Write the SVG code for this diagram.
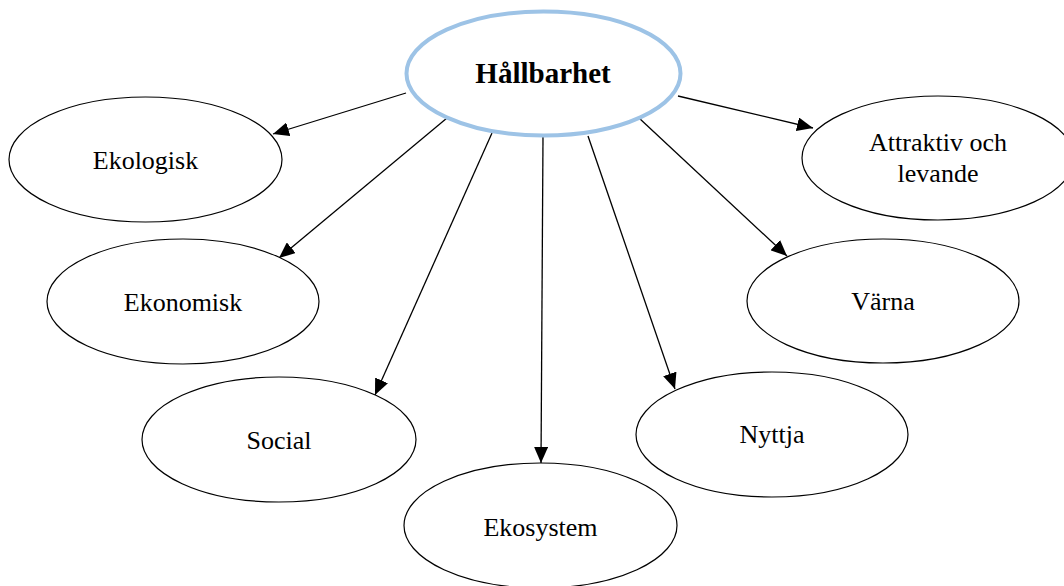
<svg xmlns="http://www.w3.org/2000/svg" width="1064" height="586" viewBox="0 0 1064 586">
<style>
.n{fill:#fff;stroke:#000;stroke-width:1.2}
.t{font-size:26px;fill:#000;text-anchor:middle}
.c line{stroke:#000;stroke-width:1.3;marker-end:url(#ah)}
</style>
<defs>
<marker id="ah" markerUnits="userSpaceOnUse" viewBox="0 0 16 14" refX="16" refY="7" markerWidth="16" markerHeight="14" orient="auto">
<path d="M0,0 L16,7 L0,14 z" fill="#000"/>
</marker>
</defs>
<rect width="1064" height="586" fill="#fff"/>
<g class="c" id="connectors">
<line x1="406" y1="93" x2="273" y2="134"/>
<line x1="447" y1="118" x2="279" y2="258"/>
<line x1="492" y1="133" x2="375" y2="395"/>
<line x1="543" y1="137" x2="541" y2="463"/>
<line x1="588" y1="136" x2="675" y2="389"/>
<line x1="639" y1="118" x2="787" y2="256"/>
<line x1="678" y1="96" x2="813" y2="128"/>
</g>
<g font-family="Liberation Serif, Times New Roman, DejaVu Serif, serif">
<g id="hallbarhet">
<ellipse cx="543.5" cy="73.5" rx="137" ry="62" fill="#fff" stroke="#9DC3E6" stroke-width="4"/>
<text class="t" x="543" y="83" font-weight="bold" style="font-size:29px">Hållbarhet</text>
</g>
<g id="ekologisk">
<ellipse class="n" cx="145.5" cy="159.5" rx="136.5" ry="62.5"/>
<text class="t" x="145.5" y="169">Ekologisk</text>
</g>
<g id="ekonomisk">
<ellipse class="n" cx="183" cy="301.5" rx="136" ry="62.5"/>
<text class="t" x="183" y="311">Ekonomisk</text>
</g>
<g id="social">
<ellipse class="n" cx="279" cy="439.5" rx="137" ry="62.5"/>
<text class="t" x="279" y="449">Social</text>
</g>
<g id="ekosystem">
<ellipse class="n" cx="540.5" cy="525.5" rx="136.5" ry="62.5"/>
<text class="t" x="540.5" y="536">Ekosystem</text>
</g>
<g id="nyttja">
<ellipse class="n" cx="772" cy="434.5" rx="136" ry="62.5"/>
<text class="t" x="772" y="443">Nyttja</text>
</g>
<g id="varna">
<ellipse class="n" cx="883" cy="301" rx="136" ry="62"/>
<text class="t" x="883" y="310">Värna</text>
</g>
<g id="attraktiv">
<ellipse class="n" cx="938" cy="158" rx="136" ry="62"/>
<text class="t" x="938" y="151">Attraktiv och</text>
<text class="t" x="938" y="182">levande</text>
</g>
</g>
</svg>
